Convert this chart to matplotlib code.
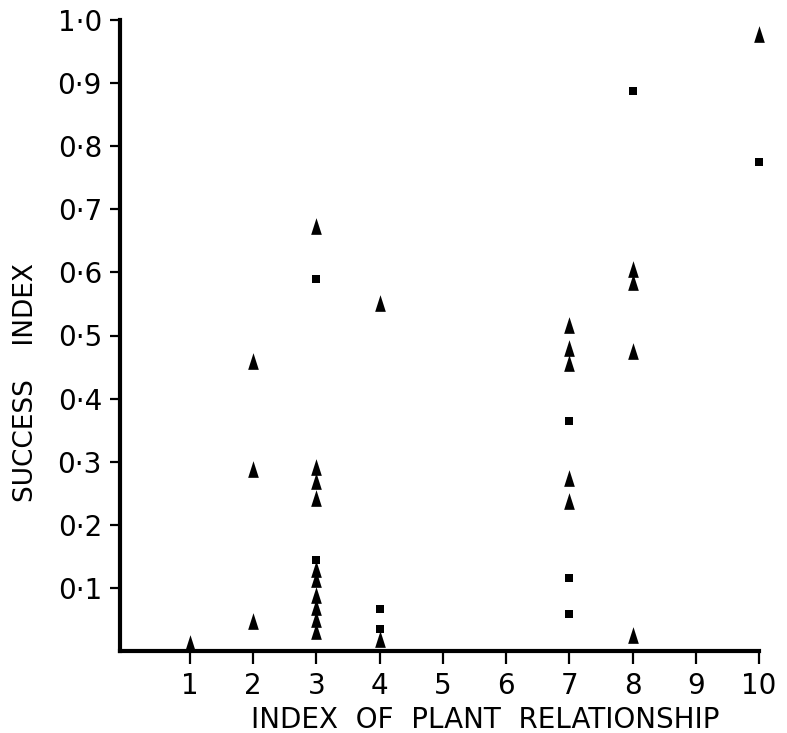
import matplotlib
matplotlib.use("Agg")
import matplotlib.pyplot as plt
import numpy as np

# Data
tri_x = [1, 2, 2, 2, 3, 3, 3, 3, 3, 3, 3, 3, 3, 3, 4, 4,
         7, 7, 7, 7, 7, 8, 8, 8, 8, 10]
tri_y = [0.012, 0.46, 0.288, 0.048, 0.673, 0.291, 0.270, 0.242, 0.130, 0.114,
         0.088, 0.069, 0.050, 0.031, 0.551, 0.019,
         0.516, 0.480, 0.456, 0.274, 0.237, 0.605, 0.585, 0.476, 0.025, 0.978]
sq_x = [3, 3, 4, 4, 7, 7, 7, 8, 10]
sq_y = [0.589, 0.145, 0.066, 0.035, 0.365, 0.115, 0.058, 0.888, 0.775]

x_ticks = [1, 2, 3, 4, 5, 6, 7, 8, 9, 10]
x_ticklabels = ["1", "2", "3", "4", "5", "6", "7", "8", "9", "10"]
y_ticks = [0.1, 0.2, 0.3, 0.4, 0.5, 0.6, 0.7, 0.8, 0.9, 1.0]
y_ticklabels = ["0\u00b71", "0\u00b72", "0\u00b73", "0\u00b74", "0\u00b75",
                "0\u00b76", "0\u00b77", "0\u00b78", "0\u00b79", "1\u00b70"]

plt.rcParams['font.family'] = ['DejaVu Sans']

W, H = 787, 733
fig = plt.figure(figsize=(W / 100, H / 100), dpi=100)
ax = fig.add_axes([120 / W, (H - 651) / H, (759 - 120) / W, (651 - 20) / H])

tri_marker = [(-0.32, -0.5), (0.32, -0.5), (0.0, 0.5), (-0.32, -0.5)]
ax.scatter(tri_x, tri_y, marker=tri_marker, s=12 ** 2, c="black",
           linewidths=0, zorder=3, clip_on=False)
ax.scatter(sq_x, sq_y, marker="s", s=6.3 ** 2, c="black",
           linewidths=0, zorder=3, clip_on=False)

ax.set_xlim(-0.107, 10)
ax.set_ylim(0, 1.0)

ax.set_xticks(x_ticks)
ax.set_xticklabels(x_ticklabels)
ax.set_yticks(y_ticks)
ax.set_yticklabels(y_ticklabels)

for s in ["top", "right"]:
    ax.spines[s].set_visible(False)
for s in ["left", "bottom"]:
    ax.spines[s].set_linewidth(3)
    ax.spines[s].set_color("black")

ax.tick_params(axis="x", direction="out", length=9, width=1.6, pad=6,
               labelsize=20, colors="black")
ax.tick_params(axis="y", direction="out", length=7, width=1.6, pad=6,
               labelsize=20, colors="black")

ax.set_xlabel("INDEX  OF  PLANT  RELATIONSHIP", fontsize=20, va="center")
ax.xaxis.set_label_coords((485 - 120) / (759 - 120), (651 - 720) / (651 - 20))
ax.set_ylabel("SUCCESS    INDEX", fontsize=19, va="center")
ax.yaxis.set_label_coords((26 - 120) / (759 - 120), (651 - 383) / (651 - 20))

fig.savefig("out.png", dpi=100)
